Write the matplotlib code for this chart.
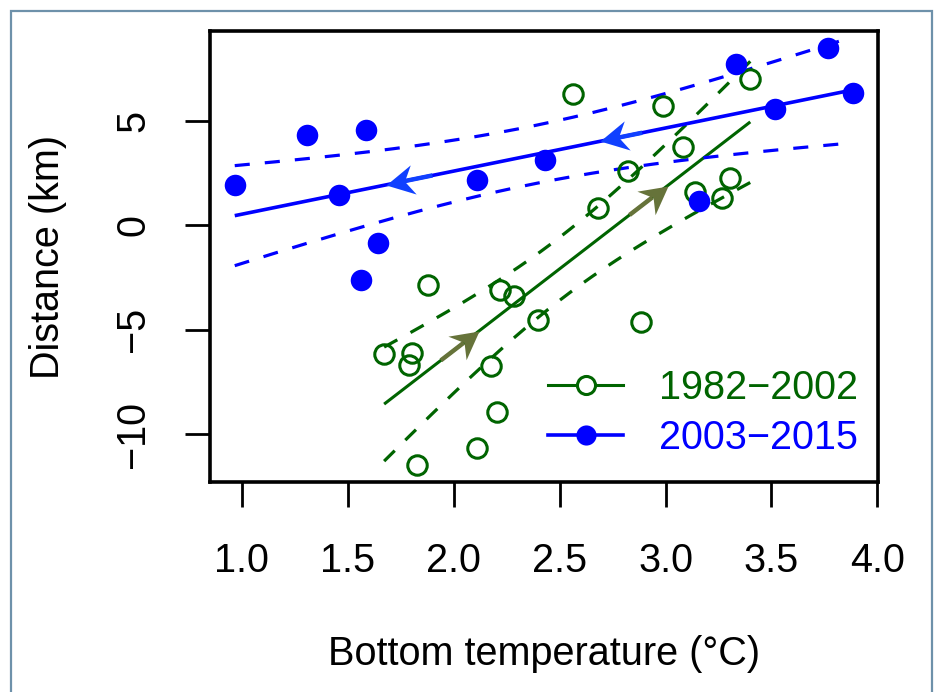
import numpy as np
import matplotlib
matplotlib.use('Agg')
import matplotlib.pyplot as plt
from matplotlib.lines import Line2D
from matplotlib.markers import MarkerStyle
from matplotlib.path import Path
from matplotlib.patches import Rectangle
from matplotlib.transforms import Affine2D

plt.rcParams['font.family'] = ['Liberation Sans', 'DejaVu Sans']
plt.rcParams['lines.scale_dashes'] = False

# 1982-2002, open circles
temp_early = [2.562, 2.987, 3.400, 3.082, 2.825, 2.683, 3.140, 3.302, 3.266,
              1.877, 2.219, 2.286, 2.397, 1.672, 1.802, 1.790, 2.176, 2.203,
              2.109, 1.827, 2.885]
dist_early = [6.29, 5.70, 7.01, 3.74, 2.62, 0.83, 1.61, 2.25, 1.31,
              -2.85, -3.09, -3.37, -4.52, -6.17, -6.12, -6.69, -6.76, -8.93,
              -10.64, -11.49, -4.65]

# 2003-2015, filled circles
temp_late = [0.967, 1.307, 1.586, 1.458, 1.642, 1.562, 2.110, 2.431, 3.334,
             3.768, 3.886, 3.518, 3.159]
dist_late = [1.94, 4.33, 4.57, 1.46, -0.85, -2.62, 2.18, 3.13, 7.73,
             8.50, 6.34, 5.58, 1.17]

# arrows along the fitted lines: (tail x, head x)
arrows_early = [(1.94, 2.12), (2.83, 3.01)]
arrows_late = [(1.90, 1.68), (2.89, 2.69)]

x_ticks = [1.0, 1.5, 2.0, 2.5, 3.0, 3.5, 4.0]
x_labels = ['1.0', '1.5', '2.0', '2.5', '3.0', '3.5', '4.0']
y_ticks = [-10, -5, 0, 5]
y_labels = ['\u221210', '\u22125', '0', '5']

green = '#006400'
blue = '#0000ff'
green_arrow = '#66733a'
blue_arrow = '#1040ff'
fs = 28.5


def fit_band(x, y):
    # least squares line with a 1.96*se band for the mean
    x = np.asarray(x)
    y = np.asarray(y)
    slope, icpt = np.polyfit(x, y, 1)
    xs = np.linspace(x.min(), x.max(), 200)
    resid = y - (icpt + slope * x)
    s = np.sqrt(np.sum(resid ** 2) / (len(x) - 2))
    se = s * np.sqrt(1.0 / len(x) + (xs - x.mean()) ** 2 / np.sum((x - x.mean()) ** 2))
    fit = icpt + slope * xs
    return xs, fit, fit - 1.96 * se, fit + 1.96 * se, slope, icpt


def dashed(ax, xs, ys, col, end_on):
    # stretch the 15px/15px dash so the line ends in a dash (or in a gap)
    pts = ax.transData.transform(np.column_stack([xs, ys]))
    length = np.sum(np.hypot(*np.diff(pts, axis=0).T)) * 72 / 100
    on = 10.8
    if end_on:
        n = max(1, round((length - on) / (2 * on)))
        per = (length - on) / n
    else:
        n = max(1, round(length / (2 * on)))
        per = length / n
    ax.plot(xs, ys, color=col, lw=2.3, dashes=(per / 2, per / 2))


fig = plt.figure(figsize=(9.36, 6.92), dpi=100)
ax = fig.add_axes([210 / 936, 1 - 482 / 692, 668 / 936, 451 / 692])

# R style limits: 4% beyond the data range
all_x = np.array(temp_early + temp_late)
all_y = np.array(dist_early + dist_late)
rx = all_x.max() - all_x.min()
ry = all_y.max() - all_y.min()
ax.set_xlim(all_x.min() - 0.04 * rx, all_x.max() + 0.04 * rx)
ax.set_ylim(all_y.min() - 0.04 * ry, all_y.max() + 0.04 * ry)

fits = {}
for tx, dy, col, lw, end_on in [(temp_early, dist_early, green, 2.2, True),
                                (temp_late, dist_late, blue, 2.6, False)]:
    xs, fit, lo, hi, slope, icpt = fit_band(tx, dy)
    fits[col] = (slope, icpt)
    ax.plot(xs, fit, color=col, lw=lw, solid_capstyle='butt')
    dashed(ax, xs, lo, col, end_on)
    dashed(ax, xs, hi, col, end_on)

ax.plot(temp_early, dist_early, 'o', ms=14, mfc='none', mec=green, mew=2.2)
ax.plot(temp_late, dist_late, 'o', ms=15.5, color=blue, mew=0)

# stealth-shaped arrow heads, tip at origin, pointing along +x
head = Path([(0, 0), (-28, 15), (-19, 0), (-28, -15), (0, 0)],
            [Path.MOVETO, Path.LINETO, Path.LINETO, Path.LINETO, Path.CLOSEPOLY])
for arrows, col, key in [(arrows_early, green_arrow, green),
                         (arrows_late, blue_arrow, blue)]:
    slope, icpt = fits[key]
    for x0, x1 in arrows:
        y0 = icpt + slope * x0
        y1 = icpt + slope * x1
        p0 = ax.transData.transform((x0, y0))
        p1 = ax.transData.transform((x1, y1))
        ang = np.degrees(np.arctan2(p1[1] - p0[1], p1[0] - p0[0]))
        xm = x0 + 0.6 * (x1 - x0)
        ax.plot([x0, xm], [y0, icpt + slope * xm], color=col, lw=3.2,
                solid_capstyle='butt')
        mk = MarkerStyle(head, transform=Affine2D().rotate_deg(ang))
        ax.plot([x1], [y1], marker=mk, ms=40, color=col, mew=0, ls='none')

ax.set_xticks(x_ticks)
ax.set_xticklabels(x_labels, fontsize=fs)
ax.set_yticks(y_ticks)
ax.set_yticklabels(y_labels, fontsize=fs, rotation=90, va='center')
ax.tick_params(direction='out', length=18, width=2)
ax.tick_params(axis='x', pad=25)
ax.tick_params(axis='y', pad=23.5)
for sp in ax.spines.values():
    sp.set_linewidth(2.6)

ax.set_xlabel('Bottom temperature (\u00b0C)', fontsize=fs, labelpad=40)
ax.set_ylabel('Distance (km)', fontsize=fs, labelpad=34)

handles = [Line2D([], [], color=green, lw=2.2, marker='o', ms=13, mfc='white',
                  mec=green, mew=2.2),
           Line2D([], [], color=blue, lw=2.6, marker='o', ms=14.5, mew=0)]
ax.legend(handles, ['1982\u22122002', '2003\u22122015'], loc='lower right',
          bbox_to_anchor=(0.97, 0.055), borderpad=0, borderaxespad=0,
          frameon=False, fontsize=fs, handlelength=1.9, handletextpad=0.9,
          labelspacing=0.3, labelcolor=[green, blue])

fig.add_artist(Rectangle((11 / 936, -0.2), 921 / 936, 1.2 - 11 / 692,
                         transform=fig.transFigure, fill=False,
                         edgecolor='#6e91aa', lw=1.6))

fig.savefig('out.png', dpi=100)
